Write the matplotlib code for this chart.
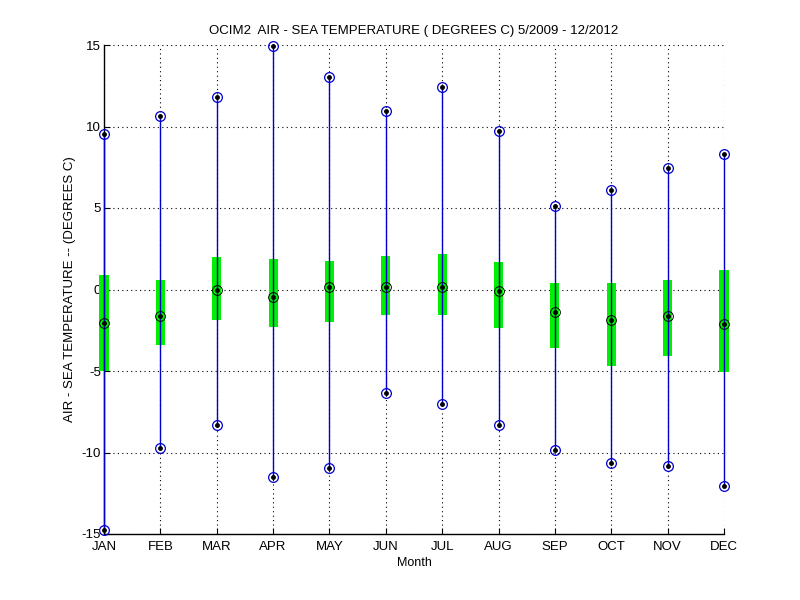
import matplotlib
matplotlib.use("Agg")
import matplotlib.pyplot as plt
import numpy as np

months = ['JAN', 'FEB', 'MAR', 'APR', 'MAY', 'JUN', 'JUL', 'AUG', 'SEP', 'OCT', 'NOV', 'DEC']
t_max = [9.52, 10.63, 11.79, 14.94, 13.04, 10.95, 12.41, 9.70, 5.10, 6.08, 7.43, 8.29]
t_min = [-14.74, -9.70, -8.29, -11.49, -10.93, -6.33, -7.00, -8.29, -9.83, -10.63, -10.81, -12.04]
t_med = [-2.03, -1.60, 0.00, -0.43, 0.14, 0.18, 0.14, -0.12, -1.41, -1.90, -1.60, -2.09]
q_hi = [0.88, 0.57, 1.98, 1.86, 1.76, 2.05, 2.17, 1.68, 0.37, 0.37, 0.57, 1.19]
q_lo = [-5.00, -3.40, -1.89, -2.30, -1.99, -1.54, -1.54, -2.36, -3.59, -4.69, -4.08, -5.06]

plt.rcParams['font.family'] = ['Liberation Sans', 'DejaVu Sans']
plt.rcParams['font.size'] = 9.5
plt.rcParams['axes.unicode_minus'] = False

fig = plt.figure(figsize=(8, 6), dpi=100)
ax = fig.add_axes([0.13, 0.11, 0.775, 0.815])

x = np.arange(1, 13)
q_hi_a = np.array(q_hi)
q_lo_a = np.array(q_lo)

# interquartile boxes
ax.bar(x, q_hi_a - q_lo_a, bottom=q_lo_a, width=0.16, color='#00f000',
       edgecolor='none', clip_on=False, zorder=2)
# whiskers from min to max
ax.vlines(x, t_min, t_max, colors='#0000cc', linewidth=1.0, zorder=3, clip_on=False)

# end points and median
for vals in (t_max, t_min):
    ax.plot(x, vals, 'o', mfc='none', mec='#0000cc', ms=7, mew=0.9, zorder=4, clip_on=False)
    ax.plot(x, vals, '.', color='k', ms=5, zorder=5, clip_on=False)
ax.plot(x, t_med, 'o', mfc='none', mec='k', ms=7, mew=0.7, zorder=4, clip_on=False)
ax.plot(x, t_med, '.', color='k', ms=5, zorder=5, clip_on=False)

ax.set_xlim(1, 12)
ax.set_ylim(-15, 15)
ax.set_xticks(x)
ax.set_xticklabels(months)
ax.set_yticks(np.arange(-15, 16, 5))
ax.grid(True, linestyle=(0, (1, 3)), color='k', linewidth=0.8)
ax.set_axisbelow(True)
ax.tick_params(direction='in', length=4, width=0.8, top=False, right=False)
ax.tick_params(axis='x', pad=5)
ax.tick_params(axis='y', pad=2)

ax.spines['top'].set_visible(False)
ax.spines['right'].set_visible(False)
ax.spines['left'].set_linewidth(1.0)
ax.spines['bottom'].set_linewidth(1.0)

ax.set_title('OCIM2  AIR - SEA TEMPERATURE ( DEGREES C) 5/2009 - 12/2012', fontsize=9.5, pad=8)
ax.set_xlabel('Month', fontsize=9, labelpad=3)
ax.set_ylabel('AIR - SEA TEMPERATURE -- (DEGREES C)', fontsize=9.5, labelpad=4)

fig.savefig('out.png', dpi=100)
